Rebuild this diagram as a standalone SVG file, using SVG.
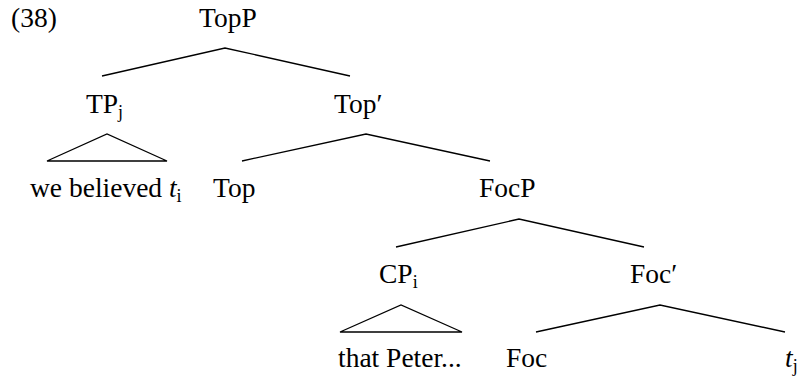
<svg xmlns="http://www.w3.org/2000/svg" width="799" height="381" viewBox="0 0 799 381">
  <style>
    text { font-family: "Liberation Serif", "Times New Roman", Times, serif; font-size: 27.5px; fill: #000; }
    .sub { font-size: 18px; }
    .it { font-style: italic; }
    .edge { fill: none; stroke: #000; stroke-width: 1.3; stroke-linejoin: miter; }
  </style>
  <rect width="799" height="381" fill="#fff"/>

  <text id="ex-num" x="11" y="27">(38)</text>

  <!-- branches and triangles -->
  <g id="connectors">
    <polyline class="edge" points="102,76 225,48 350,76"/>
    <polygon class="edge" points="47,161 107,134 167,161"/>
    <polyline class="edge" points="242,161 366,134 490,161"/>
    <polyline class="edge" points="396,247 519,219 644,247"/>
    <polygon class="edge" points="340,332 401,305 462,332"/>
    <polyline class="edge" points="536,332 660,305 785,332"/>
  </g>

  <g id="TopP"><text x="199" y="27">TopP</text></g>
  <g id="TPj"><text x="86" y="113">TP<tspan class="sub" dy="5">j</tspan></text></g>
  <g id="TopBar"><text x="334" y="113">Top′</text></g>
  <g id="we-believed"><text x="30" y="197">we believed <tspan class="it">t</tspan><tspan class="sub" dy="5">i</tspan></text></g>
  <g id="Top"><text x="213" y="197">Top</text></g>
  <g id="FocP"><text x="479" y="197">FocP</text></g>
  <g id="CPi"><text x="379" y="283">CP<tspan class="sub" dy="5">i</tspan></text></g>
  <g id="FocBar"><text x="630" y="283">Foc′</text></g>
  <g id="that-Peter"><text x="338" y="367">that Peter...</text></g>
  <g id="Foc"><text x="506" y="367">Foc</text></g>
  <g id="tj"><text x="785" y="367"><tspan class="it">t</tspan><tspan class="sub" dy="5">j</tspan></text></g>
</svg>
